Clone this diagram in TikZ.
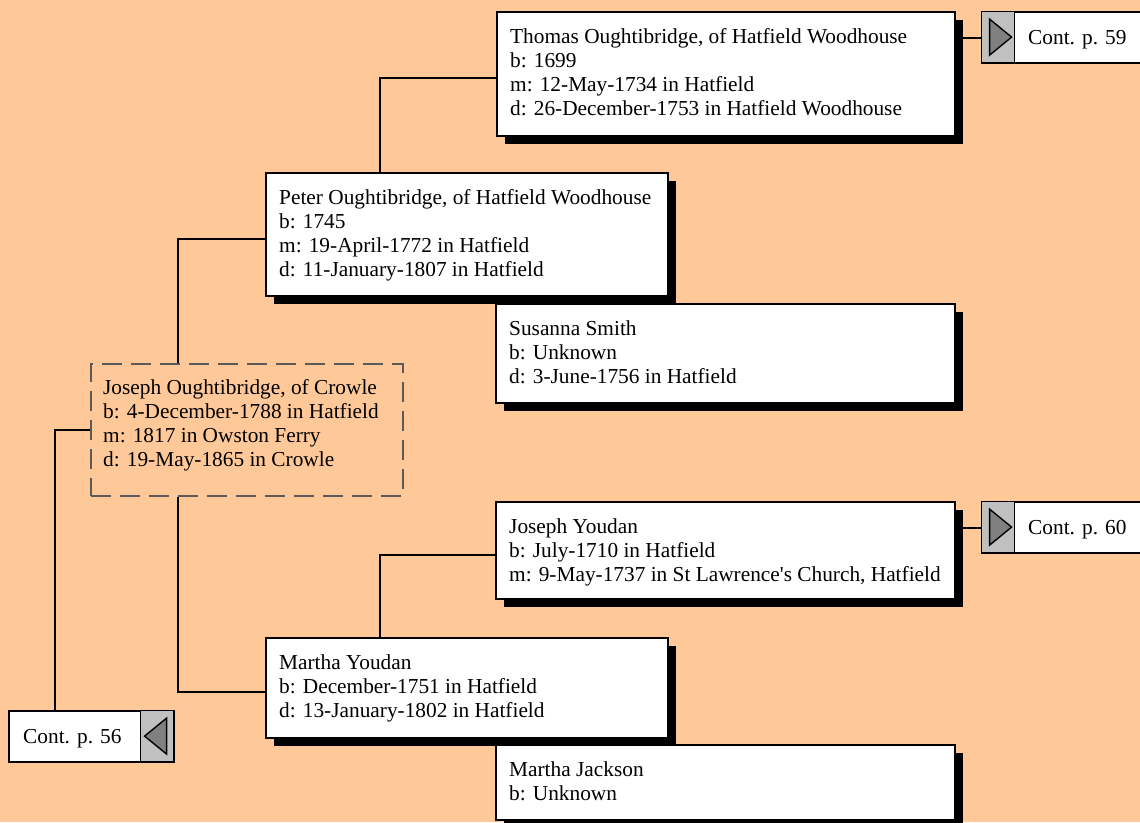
\documentclass[tikz,border=0pt]{standalone}
\usepackage{fontspec}
\setmainfont{Liberation Serif}
\usetikzlibrary{calc,shadows}
\definecolor{peach}{RGB}{255,200,153}
\definecolor{dashgray}{RGB}{90,90,90}
\definecolor{sqgray}{RGB}{192,192,192}
\definecolor{trigray}{RGB}{128,128,128}
\newcommand{\myStrut}{\rule{0pt}{16pt}}
\tikzset{
  pbox/.style={draw=black, line width=2pt, fill=white, inner sep=0pt, anchor=north west,
    drop shadow={shadow xshift=8pt, shadow yshift=-8pt, fill=black, opacity=1}},
  dbox/.style={draw=dashgray, line width=1.8pt, dash pattern=on 20pt off 9pt, inner sep=0pt, anchor=north west},
  cbox/.style={draw=black, line width=2.2pt, fill=white, inner sep=0pt, anchor=north west, minimum height=51pt},
  sqbox/.style={draw=black, line width=1.2pt, fill=sqgray, inner sep=0pt, anchor=north west, minimum width=33pt, minimum height=51pt},
  tri/.style={draw=black, line width=1.4pt, fill=trigray, line join=miter},
  txt/.style={anchor=north west, inner sep=0pt, align=left, font=\fontsize{21.33pt}{24pt}\selectfont},
  ctxt/.style={anchor=base west, inner sep=0pt, font=\fontsize{21.33pt}{24pt}\selectfont},
  conn/.style={draw=black, line width=2pt}
}
\begin{document}
\begin{tikzpicture}[x=1pt,y=-1pt]
\useasboundingbox (0,0) rectangle (1140,822);
\clip (0,0) rectangle (1140,822);
\fill[peach] (0,0) rectangle (1140,822);

% person boxes
\node[pbox, minimum width=458pt, minimum height=124pt] (thomas) at (496,11) {};
\node[pbox, minimum width=402pt, minimum height=123pt] (peter) at (265,172) {};
\node[pbox, minimum width=459pt, minimum height=99pt] (susanna) at (495,303) {};
\node[dbox, minimum width=312pt, minimum height=132pt] (josephO) at (90,363) {};
\node[pbox, minimum width=459pt, minimum height=97pt] (jyoudan) at (495,501) {};
\node[pbox, minimum width=402pt, minimum height=100pt] (myoudan) at (265,637) {};
\node[pbox, minimum width=459pt, minimum height=75pt] (mjackson) at (495,744) {};

% texts
\node[txt] (tThomas) at (510,27) {\myStrut Thomas Oughtibridge, of Hatfield Woodhouse\\b: 1699\\m: 12-May-1734 in Hatfield\\d: 26-December-1753 in Hatfield Woodhouse};
\node[txt] (tPeter) at (279,188) {\myStrut Peter Oughtibridge, of Hatfield Woodhouse\\b: 1745\\m: 19-April-1772 in Hatfield\\d: 11-January-1807 in Hatfield};
\node[txt] (tSusanna) at (509,319) {\myStrut Susanna Smith\\b: Unknown\\d: 3-June-1756 in Hatfield};
\node[txt] (tJosephO) at (103,378) {\myStrut Joseph Oughtibridge, of Crowle\\b: 4-December-1788 in Hatfield\\m: 1817 in Owston Ferry\\d: 19-May-1865 in Crowle};
\node[txt] (tJYoudan) at (509,517) {\myStrut Joseph Youdan\\b: July-1710 in Hatfield\\m: 9-May-1737 in St Lawrence\textquotesingle s Church, Hatfield};
\node[txt] (tMYoudan) at (279,653) {\myStrut Martha Youdan\\b: December-1751 in Hatfield\\d: 13-January-1802 in Hatfield};
\node[txt] (tMJackson) at (509,760) {\myStrut Martha Jackson\\b: Unknown};

% continuation boxes
\node[cbox, minimum width=170pt] (cont59) at (981,11) {};
\node[sqbox] (sq59) at (981,11) {};
\node[ctxt] (t59) at (1028,44) {Cont. p. 59};
\node[cbox, minimum width=170pt] (cont60) at (981,501) {};
\node[sqbox] (sq60) at (981,501) {};
\node[ctxt] (t60) at (1028,534) {Cont. p. 60};
\node[cbox, minimum width=165pt] (cont56) at (8,710) {};
\node[sqbox] (sq56) at (140,710) {};
\node[ctxt] (t56) at (23,743) {Cont. p. 56};

\draw[tri] ($(sq59.center)+(-8.5,-18)$) -- ($(sq59.center)+(13.5,0)$) -- ($(sq59.center)+(-8.5,18)$) -- cycle;
\draw[tri] ($(sq60.center)+(-8.5,-18)$) -- ($(sq60.center)+(13.5,0)$) -- ($(sq60.center)+(-8.5,18)$) -- cycle;
\draw[tri] ($(sq56.center)+(9.5,-18)$) -- ($(sq56.center)+(-12.5,0)$) -- ($(sq56.center)+(9.5,18)$) -- cycle;

% connectors
\draw[conn] ($(peter.north west)+(115,0)$) |- ($(thomas.west)+(0,4)$);
\draw[conn] ($(myoudan.north west)+(115,0)$) |- ($(jyoudan.west)+(0,4)$);
\draw[conn] ($(josephO.north west)+(88,0)$) |- ($(peter.west)+(0,4)$);
\draw[conn] ($(josephO.south west)+(88,0)$) |- ($(myoudan.west)+(0,4)$);
\draw[conn] (josephO.west) -| ($(cont56.north west)+(47,0)$);
\draw[conn] (cont59.west) -- (cont59.west -| thomas.east);
\draw[conn] (cont60.west) -- (cont60.west -| jyoudan.east);
\end{tikzpicture}
\end{document}
